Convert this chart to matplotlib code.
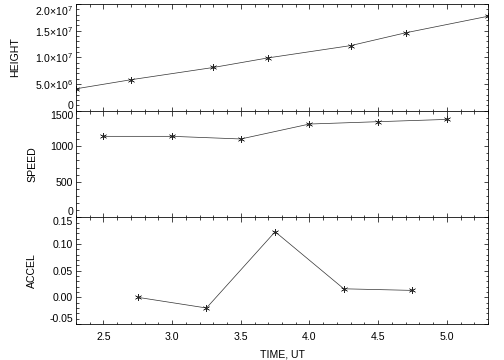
import matplotlib
matplotlib.use('Agg')
import matplotlib.pyplot as plt
from matplotlib.ticker import MultipleLocator, FixedLocator, FixedFormatter

# --- DATA ---
time_height = [2.30, 2.70, 3.30, 3.70, 4.30, 4.70, 5.30]
height = [4.1e6, 5.8e6, 8.1e6, 9.9e6, 12.2e6, 14.6e6, 17.7e6]

time_speed = [2.5, 3.0, 3.5, 4.0, 4.5, 5.0]
speed = [1139, 1139, 1102, 1312, 1345, 1377]

time_accel = [2.75, 3.25, 3.75, 4.25, 4.75]
accel = [0.0, -0.020, 0.123, 0.016, 0.013]

height_ticks = [0, 5e6, 1e7, 1.5e7, 2e7]
height_labels = ['0', r'5.0$\times$10$^6$', r'1.0$\times$10$^7$',
                 r'1.5$\times$10$^7$', r'2.0$\times$10$^7$']
speed_ticks = [0, 500, 1000, 1500]
speed_labels = ['0', '500', '1000', '1500']
accel_ticks = [-0.05, 0.0, 0.05, 0.10, 0.15]
accel_labels = ['-0.05', '0.00', '0.05', '0.10', '0.15']
time_ticks = [2.5, 3.0, 3.5, 4.0, 4.5, 5.0]
time_labels = ['2.5', '3.0', '3.5', '4.0', '4.5', '5.0']

plt.rcParams['font.family'] = ['Liberation Sans', 'DejaVu Sans']
plt.rcParams['mathtext.fontset'] = 'custom'
plt.rcParams['mathtext.rm'] = 'Liberation Sans'
plt.rcParams['font.size'] = 10.5

LINE_COLOR = '#333333'
ASTER = (6, 2, 0)

fig = plt.figure(figsize=(7, 5), dpi=72)
gs = fig.add_gridspec(3, 1, left=76/504, right=488/504, top=1 - 4/360,
                      bottom=1 - 324/360, hspace=0)
axes = [fig.add_subplot(gs[i]) for i in range(3)]

# name, and x centre of the y label in pixels
panels = [
    (time_height, height, height_ticks, height_labels, (0, 2e7), 1e6, 'HEIGHT', 15),
    (time_speed, speed, speed_ticks, speed_labels, (0, 1500), 100, 'SPEED', 32),
    (time_accel, accel, accel_ticks, accel_labels, (-0.05, 0.15), 0.01, 'ACCEL', 32),
]

for ax, (t, v, yt, yl, ylim, yminor, name, lab_x) in zip(axes, panels):
    ax.plot(t, v, color=LINE_COLOR, lw=0.7, marker=ASTER, ms=7, mew=0.5,
            mec='#222222')
    ax.set_xlim(2.30, 5.30)
    ax.set_ylim(*ylim)
    ax.yaxis.set_major_locator(FixedLocator(yt))
    ax.yaxis.set_major_formatter(FixedFormatter(yl))
    ax.yaxis.set_minor_locator(MultipleLocator(yminor))
    ax.xaxis.set_major_locator(FixedLocator(time_ticks))
    ax.xaxis.set_minor_locator(MultipleLocator(0.1))
    ax.tick_params(which='both', direction='in', top=True, right=True,
                   width=0.7, color='black')
    ax.tick_params(which='major', length=4.5, pad=3)
    ax.tick_params(which='minor', length=2.5)
    for s in ax.spines.values():
        s.set_linewidth(0.8)
    ax.set_ylabel(name)
    ax.yaxis.label.set_va('center')
    ax.yaxis.set_label_coords((lab_x - 76) / 412, 0.5)

    # end labels sit inside the panel, like IDL does
    ticks = ax.yaxis.get_major_ticks()
    ticks[0].label1.set_va('bottom')
    ticks[-1].label1.set_va('top')

for ax in axes[:2]:
    ax.tick_params(labelbottom=False)

axes[2].xaxis.set_major_formatter(FixedFormatter(time_labels))
axes[2].tick_params(axis='x', pad=8)
axes[2].set_xlabel('TIME, UT', labelpad=7)

fig.savefig('out.png', dpi=72)
